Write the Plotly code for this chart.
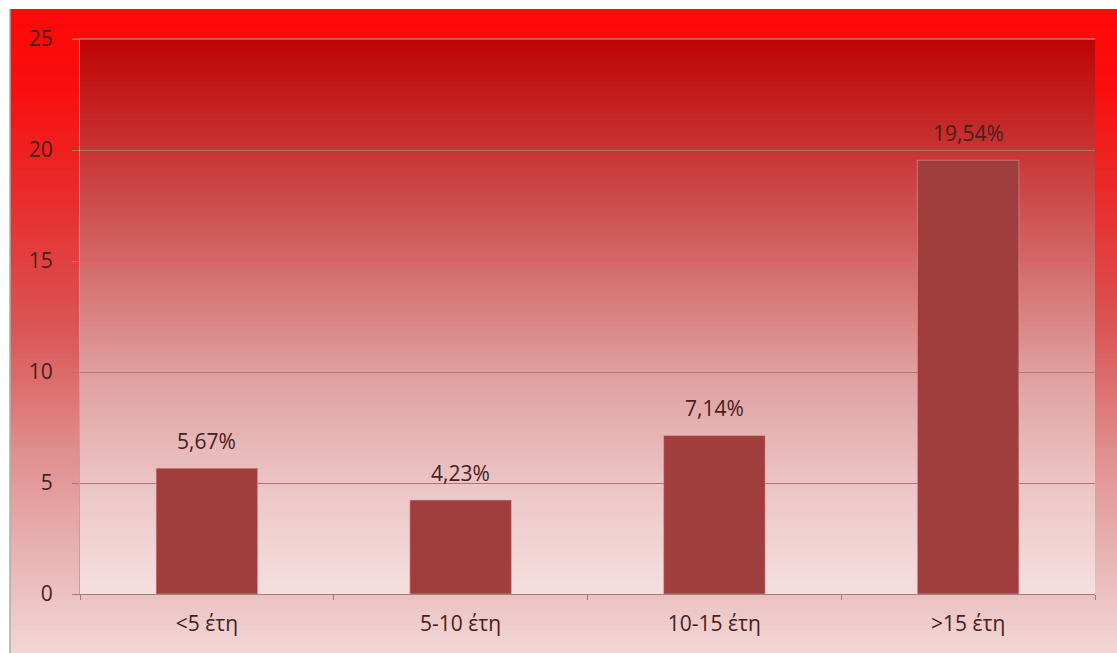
import plotly.graph_objects as go

categories = ["<5 έτη", "5-10 έτη", "10-15 έτη", ">15 έτη"]
values = [5.67, 4.23, 7.14, 19.54]
y_ticks = [0, 5, 10, 15, 20, 25]

W, H = 1117, 653
ML, MR, MT, MB = 80, 22, 39, 59
PW, PH = W - ML - MR, H - MT - MB

def lerp_stops(stops, t):
    for (t0, c0), (t1, c1) in zip(stops, stops[1:]):
        if t0 <= t <= t1:
            f = (t - t0) / (t1 - t0) if t1 > t0 else 0
            return tuple(round(a + (b - a) * f) for a, b in zip(c0, c1))
    return stops[-1][1]

shapes = []
# outer background gradient (t=0 top, t=1 bottom), in pixels
outer_stops = [(0.0, (255, 8, 8)), (0.12, (250, 14, 14)), (0.3, (232, 46, 46)),
               (0.5, (218, 86, 86)), (0.7, (224, 145, 145)), (1.0, (241, 214, 214))]
top_px, bot_px, left_px, right_px = 9, H, 10, W
N = 140
for i in range(N):
    p0 = top_px + (bot_px - top_px) * i / N
    p1 = top_px + (bot_px - top_px) * (i + 1) / N + 1
    c = lerp_stops(outer_stops, (i + 0.5) / N)
    shapes.append(dict(type="rect", xref="paper", yref="paper", layer="below",
                       x0=(left_px - ML) / PW, x1=(right_px - ML) / PW,
                       y0=(H - MB - p1) / PH, y1=(H - MB - p0) / PH,
                       line=dict(width=0), fillcolor="rgb(%d,%d,%d)" % c))
# thin border left/top
shapes.append(dict(type="line", xref="paper", yref="paper", layer="below",
                   x0=(left_px - ML) / PW, x1=(left_px - ML) / PW,
                   y0=(H - MB - bot_px) / PH, y1=(H - MB - top_px) / PH,
                   line=dict(color="rgb(170,175,165)", width=1.5)))

# plot-area gradient (t=0 top, t=1 bottom)
plot_stops = [(0.0, (190, 4, 4)), (0.2, (200, 52, 52)), (0.4, (211, 104, 104)),
              (0.6, (223, 158, 158)), (0.8, (235, 196, 196)), (1.0, (246, 223, 223))]
M = 120
for i in range(M):
    c = lerp_stops(plot_stops, (i + 0.5) / M)
    y1 = 1 - i / M
    y0 = 1 - (i + 1) / M - 0.002
    shapes.append(dict(type="rect", xref="x domain", yref="y domain", layer="below",
                       x0=0, x1=1, y0=max(y0, 0), y1=y1,
                       line=dict(width=0), fillcolor="rgb(%d,%d,%d)" % c))
# top gridline (at 25)
shapes.append(dict(type="line", xref="x domain", yref="y domain", layer="above",
                   x0=-0.007, x1=1, y0=1, y1=1,
                   line=dict(color="rgb(214,110,110)", width=1.5)))

font_family = "Open Sans"
text_color = "#472020"
FS = 21

fig = go.Figure(go.Bar(x=categories, y=values, marker=dict(color="#a03d3d",
                        line=dict(color="rgba(230,170,170,0.5)", width=1))))

annotations = [dict(x=c, y=v, xref="x", yref="y", text=f"{v:.2f}%".replace(".", ","),
                    showarrow=False, yanchor="middle", yshift=27,
                    font=dict(family=font_family, size=FS, color=text_color))
               for c, v in zip(categories, values)]

fig.update_layout(
    width=W, height=H,
    margin=dict(l=ML, r=MR, t=MT, b=MB, pad=0),
    paper_bgcolor="white", plot_bgcolor="rgba(0,0,0,0)",
    bargap=0.6, showlegend=False,
    shapes=shapes, annotations=annotations,
    font=dict(family=font_family, size=FS, color=text_color),
)
fig.update_xaxes(showgrid=False, showline=True, linecolor="#9a8080", linewidth=1,
                 ticks="outside", ticklen=5, tickcolor="#9a8080", tickson="boundaries",
                 ticklabelstandoff=11, tickfont=dict(size=FS, color=text_color))
fig.update_yaxes(range=[0, 25], tickvals=y_ticks, showgrid=True, gridcolor="#b27272",
                 gridwidth=1, showline=True, linecolor="#cf9a9a", linewidth=1,
                 ticks="outside", ticklen=7, tickcolor="#b27272", zeroline=False,
                 ticklabelstandoff=15, tickfont=dict(size=FS, color=text_color))

fig.write_html("out.html")
